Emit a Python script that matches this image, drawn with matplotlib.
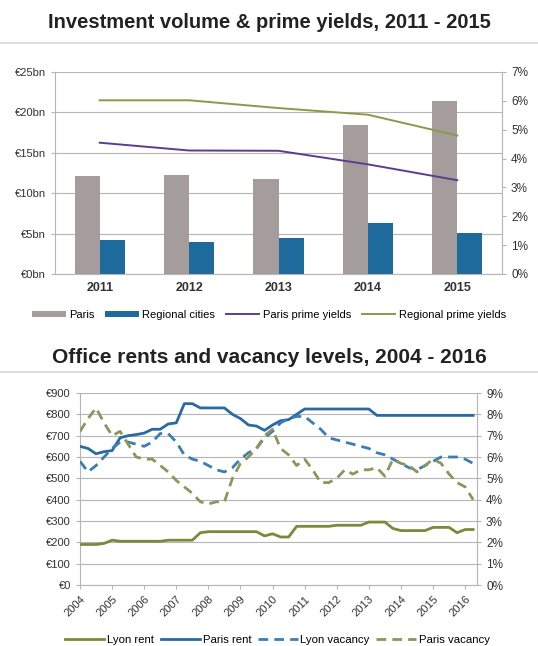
import numpy as np
import matplotlib.pyplot as plt
from matplotlib.ticker import FuncFormatter

plt.rcParams['font.family'] = ['Liberation Sans', 'DejaVu Sans']

# investment volumes (EUR bn) and prime yields (%)
years = ['2011', '2012', '2013', '2014', '2015']
paris_volume = [12.1, 12.3, 11.8, 18.5, 21.4]
regional_volume = [4.2, 4.0, 4.4, 6.35, 5.1]
paris_yield = [4.55, 4.28, 4.27, 3.8, 3.25]
regional_yield = [6.02, 6.02, 5.75, 5.52, 4.8]

# quarterly rents (EUR/sqm) and vacancy (%), Q1 2004 - Q2 2016
quarters = np.arange(2004, 2016.26, 0.25)
lyon_rent = [190, 190, 190, 195, 210, 205, 205, 205, 205, 205, 205, 210, 210, 210, 210, 245,
             250, 250, 250, 250, 250, 250, 250, 230, 240, 225, 225, 275, 275, 275, 275, 275,
             280, 280, 280, 280, 295, 295, 295, 265, 255, 255, 255, 255, 270, 270, 270, 245,
             260, 260]
paris_rent = [650, 640, 615, 625, 630, 690, 700, 705, 712, 730, 730, 755, 760, 850, 850, 830,
              830, 830, 830, 800, 780, 750, 745, 725, 750, 770, 775, 800, 825, 825, 825, 825,
              825, 825, 825, 825, 825, 795, 795, 795, 795, 795, 795, 795, 795, 795, 795, 795,
              795, 795]
lyon_vacancy = [5.8, 5.3, 5.6, 6.0, 6.4, 6.7, 6.7, 6.6, 6.5, 6.7, 7.1, 7.1, 6.7, 6.1, 5.9, 5.8,
                5.6, 5.4, 5.3, 5.5, 5.9, 6.2, 6.4, 6.9, 7.2, 7.6, 7.8, 7.9, 7.9, 7.6, 7.3, 6.9,
                6.8, 6.7, 6.6, 6.5, 6.4, 6.2, 6.1, 5.9, 5.7, 5.5, 5.4, 5.6, 5.8, 6.0, 6.0, 6.0,
                5.9, 5.7]
paris_vacancy = [7.2, 7.8, 8.3, 7.6, 7.0, 7.2, 6.6, 6.0, 5.9, 5.9, 5.6, 5.3, 4.9, 4.6, 4.3, 3.9,
                 3.8, 3.9, 3.9, 5.0, 5.7, 6.0, 6.4, 7.0, 7.3, 6.4, 6.1, 5.6, 5.9, 5.4, 4.8, 4.8,
                 5.0, 5.4, 5.2, 5.4, 5.4, 5.5, 5.1, 5.9, 5.7, 5.6, 5.3, 5.6, 5.9, 5.7, 5.2, 4.8,
                 4.6, 4.0]
year_ticks = list(range(2004, 2017))

grid_col = '#b5b5b5'
tick_col = '#333333'

fig = plt.figure(figsize=(5.38, 6.46), dpi=100)

# titles and separator lines
fig.text(0.5, 1 - 22 / 646, 'Investment volume & prime yields, 2011 - 2015', ha='center', va='center',
         fontsize=14.5, fontweight='bold', color='#222222')
fig.text(0.5, 1 - 357 / 646, 'Office rents and vacancy levels, 2004 - 2016', ha='center', va='center',
         fontsize=15, fontweight='bold', color='#222222')
for yy in [43, 372]:
    fig.add_artist(plt.Line2D([0, 1], [1 - yy / 646, 1 - yy / 646], color='#d8d8d8', lw=1.2))

# ---- top chart: bars + yields ----
ax1 = fig.add_axes([55 / 538, 1 - 274 / 646, 447 / 538, 202 / 646])
x = np.arange(len(years))
w = 0.28
ax1.bar(x - w / 2, paris_volume, w, color='#a59d9b', label='Paris', zorder=2)
ax1.bar(x + w / 2, regional_volume, w, color='#1f6a9c', label='Regional cities', zorder=2)
ax1.set_ylim(0, 25)
ax1.set_xlim(-0.5, len(years) - 0.5)
ax1.set_yticks([0, 5, 10, 15, 20, 25])
ax1.yaxis.set_major_formatter(FuncFormatter(lambda v, p: '€%dbn' % v))
ax1.set_xticks(x)
ax1.set_xticklabels(years, fontweight='bold')
ax1.grid(axis='y', color=grid_col, lw=0.8, zorder=0)
ax1.tick_params(axis='y', labelsize=8, colors=tick_col, length=3, color=grid_col)
ax1.tick_params(axis='x', labelsize=9, colors=tick_col, length=0, pad=6)
for s in ['top', 'right']:
    ax1.spines[s].set_visible(False)
for s in ['left', 'bottom']:
    ax1.spines[s].set_color(grid_col)

ax1b = ax1.twinx()
ax1b.plot(x, paris_yield, color='#5b3d8f', lw=1.4, label='Paris prime yields')
ax1b.plot(x, regional_yield, color='#8c9a48', lw=1.4, label='Regional prime yields')
ax1b.set_ylim(0, 7)
ax1b.set_yticks(range(8))
ax1b.yaxis.set_major_formatter(FuncFormatter(lambda v, p: '%d%%' % v))
ax1b.tick_params(axis='y', labelsize=8.5, colors=tick_col, length=3, color=grid_col)
for s in ['top', 'left', 'bottom']:
    ax1b.spines[s].set_visible(False)
ax1b.spines['right'].set_color(grid_col)

h1, l1 = ax1.get_legend_handles_labels()
h2, l2 = ax1b.get_legend_handles_labels()
fig.legend(h1 + h2, l1 + l2, loc='center', bbox_to_anchor=(0.5, 1 - 315 / 646), ncol=4,
           frameon=False, fontsize=8, handlelength=3.0, handletextpad=0.3, columnspacing=1.0,
           handleheight=0.5)

# ---- bottom chart: rents + vacancy ----
ax2 = fig.add_axes([80 / 538, 1 - 585 / 646, 397 / 538, 192 / 646])
ax2.plot(quarters, lyon_rent, color='#7b8a3a', lw=2.0, label='Lyon rent', zorder=3)
ax2.plot(quarters, paris_rent, color='#2a6aa0', lw=2.0, label='Paris rent', zorder=3)
ax2.set_ylim(0, 900)
ax2.set_xlim(2004, 2016.37)
ax2.set_yticks(range(0, 901, 100))
ax2.yaxis.set_major_formatter(FuncFormatter(lambda v, p: '€%d' % v))
ax2.set_xticks(year_ticks)
ax2.set_xticklabels([str(y) for y in year_ticks], rotation=45, ha='right', rotation_mode='anchor')
ax2.grid(axis='y', color=grid_col, lw=0.8, zorder=0)
ax2.tick_params(axis='y', labelsize=8, colors=tick_col, length=3, color=grid_col)
ax2.tick_params(axis='x', labelsize=8, colors=tick_col, length=3, color=grid_col)
for s in ['top', 'right']:
    ax2.spines[s].set_visible(False)
for s in ['left', 'bottom']:
    ax2.spines[s].set_color(grid_col)

ax2b = ax2.twinx()
ax2b.plot(quarters, lyon_vacancy, color='#3d7db4', lw=2.0, ls=(0, (3.5, 2.2)), label='Lyon vacancy')
ax2b.plot(quarters, paris_vacancy, color='#8c965a', lw=2.0, ls=(0, (3.5, 2.2)), label='Paris vacancy')
ax2b.set_ylim(0, 9)
ax2b.set_yticks(range(10))
ax2b.yaxis.set_major_formatter(FuncFormatter(lambda v, p: '%d%%' % v))
ax2b.tick_params(axis='y', labelsize=8.5, colors=tick_col, length=3, color=grid_col)
for s in ['top', 'left', 'bottom']:
    ax2b.spines[s].set_visible(False)
ax2b.spines['right'].set_color(grid_col)

h1, l1 = ax2.get_legend_handles_labels()
h2, l2 = ax2b.get_legend_handles_labels()
fig.legend(h1 + h2, l1 + l2, loc='center', bbox_to_anchor=(0.515, 1 - 640 / 646), ncol=4,
           frameon=False, fontsize=8.2, handlelength=3.5, handletextpad=0.2, columnspacing=0.6)

fig.savefig('out.png', dpi=100)
